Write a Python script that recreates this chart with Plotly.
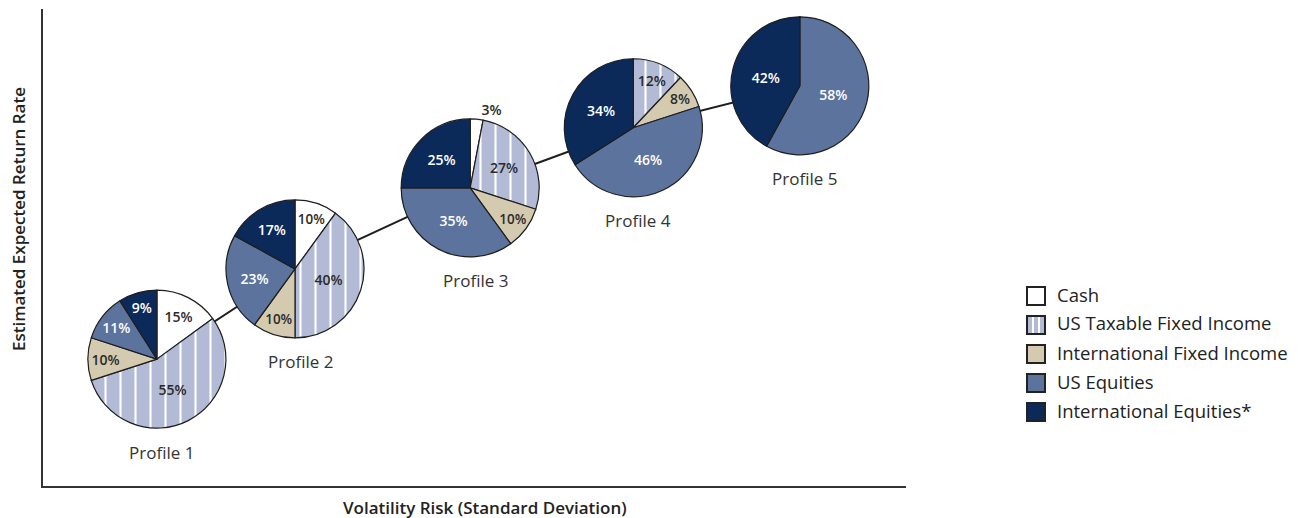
import plotly.graph_objects as go

# ---------------- data ----------------
profiles = ["Profile 1", "Profile 2", "Profile 3", "Profile 4", "Profile 5"]
categories = ["Cash", "US Taxable Fixed Income", "International Fixed Income",
              "US Equities", "International Equities*"]
cash = [15, 10, 3, 0, 0]
us_taxable_fi = [55, 40, 27, 12, 0]
intl_fi = [10, 10, 10, 8, 0]
us_equities = [11, 23, 35, 46, 58]
intl_equities = [9, 17, 25, 34, 42]
# position of each profile on the risk / return plane (axis units 0-100)
volatility_risk = [13.2, 29.2, 49.5, 68.4, 87.7]
expected_return = [26.6, 45.5, 62.5, 75.1, 83.9]

# ---------------- style ----------------
colors = ["#ffffff", "#b3bad6", "#d4cab0", "#5b739d", "#0b2a5a"]
text_colors = ["#2a2a2a", "#2a2a2a", "#2a2a2a", "#ffffff", "#ffffff"]
patterns = ["", "|", "", "", ""]
FONT = "Open Sans"
DARK = "#2b2b2b"

# the page draws the figure 8px in from the window's corner
OFF = 8
W, H = 1298 - OFF, 518 - OFF
L, R, T, B = 43 - OFF, 906 - OFF, 9 - OFF, 486 - OFF
PW, PH = R - L, B - T
X_RANGE = [0, 100]
Y_RANGE = [0, 100]
PIE_R = 69  # px


def px_x(px):
    return (px - OFF - L) / PW


def px_y(py):
    return (B - (py - OFF)) / PH


fig = go.Figure()

# connecting line through the profile centres
fig.add_trace(go.Scatter(
    x=volatility_risk, y=expected_return, mode="lines",
    line=dict(color="#1e1e1e", width=2), hoverinfo="skip", showlegend=False))

for i, name in enumerate(profiles):
    vals = [cash[i], us_taxable_fi[i], intl_fi[i], us_equities[i], intl_equities[i]]
    cx = (volatility_risk[i] - X_RANGE[0]) / (X_RANGE[1] - X_RANGE[0])
    cy = (expected_return[i] - Y_RANGE[0]) / (Y_RANGE[1] - Y_RANGE[0])
    hx, hy = PIE_R / PW, PIE_R / PH
    fig.add_trace(go.Pie(
        labels=categories, values=vals, sort=False, direction="clockwise",
        rotation=0,
        domain=dict(x=[cx - hx, cx + hx], y=[cy - hy, cy + hy]),
        marker=dict(colors=colors, line=dict(color="#1e1e1e", width=1.2),
                    pattern=dict(shape=patterns, fgcolor="#ffffff", bgcolor=colors,
                                 fillmode="replace", size=15, solidity=0.14)),
        text=[f"{v}%" if v > 0 else "" for v in vals],
        textinfo="text",
        textposition=["outside" if 0 < v < 5 else "inside" for v in vals],
        insidetextorientation="horizontal",
        textfont=dict(family=FONT, size=14, color=text_colors, weight=600),
        outsidetextfont=dict(family=FONT, size=14, color="#2a2a2a", weight=600),
        hoverinfo="label+percent", showlegend=False, name=name))
    # profile caption under each pie
    fig.add_annotation(
        x=volatility_risk[i], y=expected_return[i], xref="x", yref="y",
        text=name, showarrow=False, xshift=5, yshift=-(PIE_R + 24),
        xanchor="center", yanchor="middle",
        font=dict(family=FONT, size=17, color="#333333"))

# ---------------- legend (manual) ----------------
leg_x0, leg_size, text_x = 1027, 18, 1055
leg_rows = [296, 325, 354, 383, 412]
for cat, col, pat, yc in zip(categories, colors, patterns, leg_rows):
    fig.add_shape(type="rect", xref="paper", yref="paper",
                  x0=px_x(leg_x0), x1=px_x(leg_x0 + leg_size),
                  y0=px_y(yc + leg_size / 2), y1=px_y(yc - leg_size / 2),
                  fillcolor=col, line=dict(color="#222222", width=2))
    if pat == "|":
        for sx in (leg_x0 + 6, leg_x0 + 12):
            fig.add_shape(type="line", xref="paper", yref="paper",
                          x0=px_x(sx), x1=px_x(sx),
                          y0=px_y(yc + leg_size / 2 - 1), y1=px_y(yc - leg_size / 2 + 1),
                          line=dict(color="#ffffff", width=2))
    fig.add_annotation(x=px_x(text_x), y=px_y(yc - 2), xref="paper", yref="paper",
                       text=cat, showarrow=False, xanchor="left", yanchor="middle",
                       font=dict(family=FONT, size=18.5, color="#222222"))

# ---------------- axis titles ----------------
fig.add_annotation(x=px_x(485), y=px_y(507), xref="paper", yref="paper",
                   text="Volatility Risk (Standard Deviation)", showarrow=False,
                   xanchor="center", yanchor="middle",
                   font=dict(family=FONT, size=17, color="#222222", weight=600))
fig.add_annotation(x=px_x(18), y=px_y(219), xref="paper", yref="paper",
                   text="Estimated Expected Return Rate", showarrow=False, textangle=-90,
                   xanchor="center", yanchor="middle",
                   font=dict(family=FONT, size=17, color="#222222", weight=600))

axis_common = dict(showline=True, linecolor="#333333", linewidth=2, showgrid=False,
                   zeroline=False, showticklabels=False, ticks="", fixedrange=True)
fig.update_xaxes(range=X_RANGE, **axis_common)
fig.update_yaxes(range=Y_RANGE, **axis_common)

fig.update_layout(
    width=W, height=H, margin=dict(l=L, r=W - R, t=T, b=H - B),
    paper_bgcolor="white", plot_bgcolor="white",
    font=dict(family=FONT, color=DARK), showlegend=False)

fig.write_html("out.html")
